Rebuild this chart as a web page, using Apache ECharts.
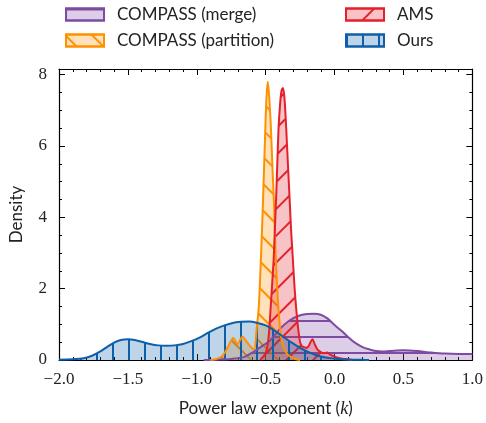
<!DOCTYPE html>
<html>
<head>
<meta charset="utf-8">
<script src="https://cdn.jsdelivr.net/npm/echarts@6/dist/echarts.min.js"></script>
<style>
  html, body { margin: 0; padding: 0; background: #fff; }
  #chart { width: 486px; height: 423px; }
</style>
</head>
<body>
<div id="chart"></div>
<script>
// density curves (x = power law exponent k, y = density)
var kMerge = [-0.95, -0.85, -0.75, -0.66, -0.6, -0.53, -0.47, -0.4, -0.33, -0.26, -0.2, -0.15, -0.1, -0.05, 0.0, 0.05, 0.1, 0.15, 0.2, 0.25, 0.3, 0.35, 0.4, 0.5, 0.6, 0.7, 0.8, 0.9, 1.0];
var dMerge = [0, 0.01, 0.03, 0.08, 0.2, 0.38, 0.54, 0.86, 1.1, 1.24, 1.29, 1.3, 1.27, 1.16, 0.98, 0.82, 0.64, 0.48, 0.37, 0.3, 0.25, 0.24, 0.25, 0.27, 0.25, 0.21, 0.18, 0.17, 0.17];

var kPart = [-0.9, -0.85, -0.81, -0.77, -0.735, -0.705, -0.668, -0.64, -0.615, -0.585, -0.565, -0.55, -0.535, -0.52, -0.505, -0.495, -0.485, -0.475, -0.462, -0.45, -0.44, -0.428, -0.415, -0.405, -0.39, -0.37, -0.34, -0.3, -0.25];
var dPart = [0, 0.04, 0.13, 0.4, 0.62, 0.45, 0.65, 0.52, 0.4, 0.3, 0.9, 1.5, 2.8, 4.4, 6.2, 7.3, 7.8, 7.4, 6.5, 5.3, 4.4, 3.0, 1.9, 1.3, 0.7, 0.35, 0.15, 0.05, 0];

var kAms = [-0.54, -0.5, -0.48, -0.464, -0.452, -0.442, -0.432, -0.423, -0.414, -0.406, -0.395, -0.385, -0.375, -0.365, -0.355, -0.345, -0.335, -0.325, -0.315, -0.303, -0.29, -0.279, -0.265, -0.25, -0.235, -0.22, -0.205, -0.19, -0.175, -0.16, -0.145, -0.125, -0.1, -0.075, -0.055, -0.035, -0.015, 0.01, 0.04, 0.07, 0.1, 0.13];
var dAms = [0, 0.2, 0.6, 1.46, 2.2, 2.84, 3.8, 4.68, 5.7, 6.55, 7.2, 7.55, 7.63, 7.4, 6.8, 6.0, 5.2, 4.4, 3.6, 2.84, 2.0, 1.46, 0.9, 0.5, 0.38, 0.36, 0.34, 0.38, 0.5, 0.58, 0.45, 0.3, 0.22, 0.19, 0.21, 0.16, 0.12, 0.08, 0.05, 0.03, 0.02, 0];

var kOurs = [-2.0, -1.9, -1.82, -1.76, -1.7, -1.65, -1.6, -1.55, -1.5, -1.45, -1.4, -1.34, -1.28, -1.22, -1.16, -1.1, -1.04, -0.98, -0.92, -0.86, -0.8, -0.74, -0.68, -0.62, -0.56, -0.5, -0.45, -0.4, -0.35, -0.3, -0.25, -0.2, -0.15, -0.1, -0.05, 0.0, 0.05, 0.1, 0.2, 0.25];
var dOurs = [0.01, 0.02, 0.05, 0.12, 0.24, 0.37, 0.49, 0.56, 0.58, 0.56, 0.51, 0.45, 0.41, 0.4, 0.41, 0.45, 0.53, 0.63, 0.76, 0.88, 0.97, 1.04, 1.07, 1.08, 1.04, 0.97, 0.86, 0.73, 0.59, 0.46, 0.34, 0.24, 0.16, 0.1, 0.06, 0.04, 0.02, 0.01, 0.005, 0];

var names = ['COMPASS (merge)', 'COMPASS (partition)', 'AMS', 'Ours'];
var xTicks = [-2.0, -1.5, -1.0, -0.5, 0.0, 0.5, 1.0];
var yTicks = [0, 2, 4, 6, 8];

var colMerge = '#7d4ba1', colPart = '#ff9000', colAms = '#e6202b', colOurs = '#0d5fa9';

function pairs(xs, ys) {
    return xs.map(function (x, i) { return [x, ys[i]]; });
}

function hatch(color, kind) {
    var d = { symbol: 'rect', symbolSize: 1, color: color };
    if (kind === '-') { d.dashArrayX = [1, 0]; d.dashArrayY = [2, 14]; d.rotation = 0; }
    if (kind === '|') { d.dashArrayX = [2, 14]; d.dashArrayY = [1, 0]; d.rotation = 0; }
    if (kind === '/') { d.dashArrayX = [1, 0]; d.dashArrayY = [2, 17]; d.rotation = -Math.PI / 4; }
    if (kind === '\\') { d.dashArrayX = [1, 0]; d.dashArrayY = [2, 17]; d.rotation = Math.PI / 4; }
    return d;
}

function fade(hex, a) {
    var n = parseInt(hex.slice(1), 16);
    return 'rgba(' + (n >> 16) + ',' + ((n >> 8) & 255) + ',' + (n & 255) + ',' + a + ')';
}

function makeSeries(name, xs, ys, color, kind) {
    var dec = hatch(color, kind);
    return {
        name: name,
        type: 'line',
        data: pairs(xs, ys),
        smooth: 0.3,
        showSymbol: false,
        symbol: 'none',
        color: color,
        lineStyle: { color: color, width: 2, decal: dec },
        itemStyle: { color: color, decal: dec },
        areaStyle: { color: fade(color, 0.27), opacity: 1 }
    };
}

function legendItem(name, color, kind) {
    return {
        name: name,
        icon: 'rect',
        itemStyle: { color: fade(color, 0.27), borderColor: color, borderWidth: 2, decal: hatch(color, kind) }
    };
}

function fmt(v) {
    var s = (Math.abs(v) < 1e-9 ? 0 : v).toFixed(1);
    return s.replace('-', '\u2212');
}

var serif = 'Liberation Serif';
var sans = 'Lato';

var legendText = { fontFamily: sans, fontSize: 17, color: '#222', padding: [0, 0, 0, 8] };

var chart = echarts.init(document.getElementById('chart'));
var option = {
    animation: false,
    backgroundColor: '#fff',
    legend: [
        {
            left: 65, top: 6, padding: 0, orient: 'vertical', itemWidth: 38, itemHeight: 12, itemGap: 9,
            textStyle: legendText,
            data: [legendItem(names[0], colMerge, '-'), legendItem(names[1], colPart, '\\')]
        },
        {
            left: 345, top: 6, padding: 0, orient: 'vertical', itemWidth: 38, itemHeight: 12, itemGap: 9,
            textStyle: legendText,
            data: [legendItem(names[2], colAms, '/'), legendItem(names[3], colOurs, '|')]
        }
    ],
    grid: { left: 58, right: 12, top: 69, bottom: 60, show: false },
    xAxis: [
        {
            type: 'value', min: -2, max: 1, interval: 0.5,
            name: '{a|Power law exponent (}{i|k}{a|)}',
            nameLocation: 'middle', nameGap: 40,
            nameTextStyle: {
                rich: {
                    a: { fontFamily: sans, fontSize: 17, color: '#222' },
                    i: { fontFamily: serif, fontStyle: 'italic', fontSize: 18, color: '#222' }
                }
            },
            axisLine: { show: true, onZero: false, lineStyle: { color: '#000', width: 1.2 } },
            axisTick: { show: true, inside: true, length: 6, lineStyle: { color: '#000', width: 1 } },
            minorTick: { show: true, splitNumber: 5, length: 3, lineStyle: { color: '#000', width: 1 } },
            splitLine: { show: false },
            axisLabel: {
                fontFamily: serif, fontSize: 17, color: '#222', margin: 11,
                formatter: function (v) { return fmt(v); }
            }
        },
        {
            type: 'value', min: -2, max: 1, interval: 0.5, position: 'top',
            axisLine: { show: true, onZero: false, lineStyle: { color: '#000', width: 1.2 } },
            axisTick: { show: true, inside: true, length: 6, lineStyle: { color: '#000', width: 1 } },
            minorTick: { show: true, splitNumber: 5, length: 3, lineStyle: { color: '#000', width: 1 } },
            splitLine: { show: false },
            axisLabel: { show: false }
        }
    ],
    yAxis: [
        {
            type: 'value', min: 0, max: 8.16, interval: 2,
            name: 'Density', nameLocation: 'middle', nameGap: 34,
            nameTextStyle: { fontFamily: sans, fontSize: 17, color: '#222' },
            axisLine: { show: true, onZero: false, lineStyle: { color: '#000', width: 1.2 } },
            axisTick: { show: true, inside: true, length: 6, lineStyle: { color: '#000', width: 1 } },
            minorTick: { show: true, splitNumber: 4, length: 3, lineStyle: { color: '#000', width: 1 } },
            splitLine: { show: false },
            axisLabel: {
                fontFamily: serif, fontSize: 17, color: '#222', margin: 12, showMaxLabel: false,
                formatter: function (v) { return yTicks.indexOf(v) >= 0 ? String(v) : ''; }
            }
        },
        {
            type: 'value', min: 0, max: 8.16, interval: 2, position: 'right',
            axisLine: { show: true, onZero: false, lineStyle: { color: '#000', width: 1.2 } },
            axisTick: { show: true, inside: true, length: 6, lineStyle: { color: '#000', width: 1 } },
            minorTick: { show: true, splitNumber: 4, length: 3, lineStyle: { color: '#000', width: 1 } },
            splitLine: { show: false },
            axisLabel: { show: false }
        }
    ],
    series: [
        makeSeries(names[0], kMerge, dMerge, colMerge, '-'),
        makeSeries(names[1], kPart, dPart, colPart, '\\'),
        makeSeries(names[2], kAms, dAms, colAms, '/'),
        makeSeries(names[3], kOurs, dOurs, colOurs, '|')
    ]
};
chart.setOption(option);
</script>
</body>
</html>
